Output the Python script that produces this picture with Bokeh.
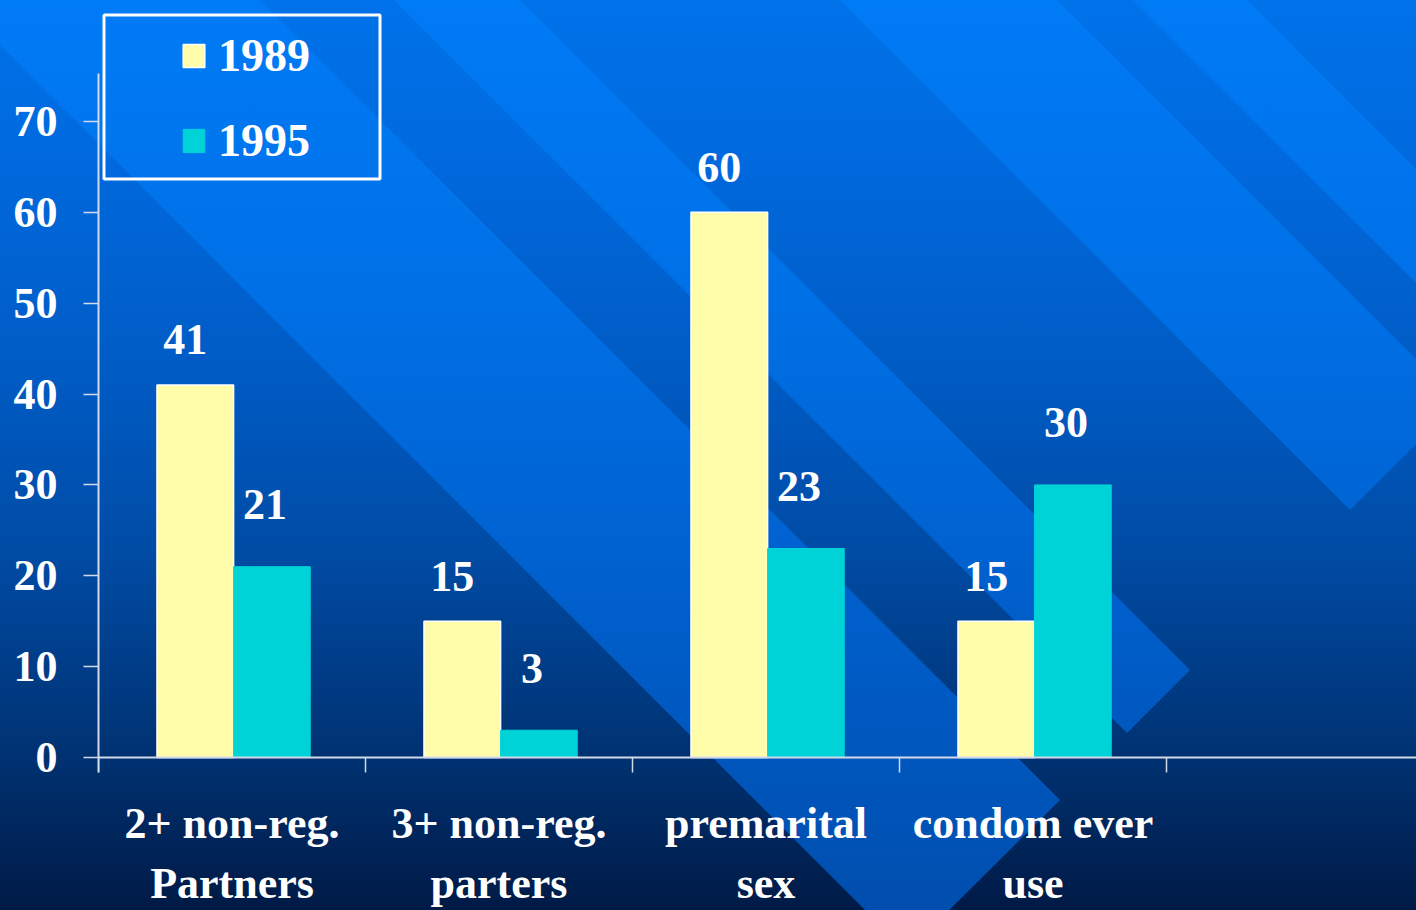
from urllib.parse import quote

from bokeh.core.properties import value
from bokeh.embed import file_html
from bokeh.models import (BoxAnnotation, ColumnDataSource, FixedTicker, GlobalInlineStyleSheet,
                          Legend, LegendItem, LinearAxis, Range1d)
from bokeh.plotting import figure
from bokeh.resources import INLINE

# ---------------- data ----------------
categories = ["2+ non-reg.\nPartners", "3+ non-reg.\nparters", "premarital\nsex", "condom ever\nuse"]
years = ["1989", "1995"]
values_1989 = [41, 15, 60, 15]
values_1995 = [21, 3, 23, 30]
y_ticks = [0, 10, 20, 30, 40, 50, 60, 70]

# ---------------- style ----------------
FONT = "Liberation Serif"
YELLOW = "#FFFDAA"
CYAN = "#00D3D7"
AXIS = "#D2DAEA"
W, H = 1416, 910
FRAME_L = 98
ZERO_Y = 757            # pixel row of the value 0
PX_PER_CAT = 267.0
PX_PER_UNIT = 9.086
x_end = (W - FRAME_L) / PX_PER_CAT
y_end = ZERO_Y / PX_PER_UNIT
y_start = -(H - ZERO_Y) / PX_PER_UNIT
BAR_W = 0.287
GROUP_SHIFT = 0.006

# ---------------- page background (decorative slide backdrop) ----------------
bg_svg = (
    '<svg xmlns="http://www.w3.org/2000/svg" width="1416" height="910" viewBox="0 0 1416 910">'
    '<defs>'
    '<linearGradient id="g" x1="0" y1="0" x2="0" y2="910" gradientUnits="userSpaceOnUse">'
    '<stop offset="0" stop-color="#0072EA"/><stop offset="0.165" stop-color="#006ADF"/>'
    '<stop offset="0.41" stop-color="#005BC4"/><stop offset="0.6" stop-color="#004CA6"/>'
    '<stop offset="0.83" stop-color="#003272"/><stop offset="1" stop-color="#001A46"/>'
    '</linearGradient>'
    '<linearGradient id="h" x1="0" y1="0" x2="0" y2="910" gradientUnits="userSpaceOnUse">'
    '<stop offset="0" stop-color="#007BF6"/><stop offset="0.33" stop-color="#0070E6"/>'
    '<stop offset="0.66" stop-color="#005FCC"/><stop offset="1" stop-color="#004EAE"/>'
    '</linearGradient>'
    '</defs>'
    '<rect width="1416" height="910" fill="url(#g)"/>'
    '<polygon fill="url(#h)" points="0,45 907,952 1060,800 260,0 0,0"/>'
    '<polygon fill="url(#h)" points="394,0 1127,733 1190,670 520,0"/>'
    '<polygon fill="url(#h)" points="840,0 1350,510 1416,444 1416,359 1057,0"/>'
    '<polygon fill="url(#h)" points="1133,0 1416,283 1416,169 1247,0"/>'
    '</svg>'
)
page_css = (
    'html,body{margin:0;padding:0;overflow:hidden;}'
    'html{background:#001A46 url("data:image/svg+xml,' + quote(bg_svg) + '") no-repeat 0 0;}'
    'body{background:transparent;}'
)

# ---------------- figure ----------------
p = figure(width=W, height=H, x_range=Range1d(0, x_end), y_range=Range1d(y_start, y_end),
           output_backend="svg", toolbar_location=None,
           x_axis_type=None, y_axis_type=None,
           min_border_left=FRAME_L, min_border_right=0, min_border_top=0, min_border_bottom=0)
p.background_fill_color = None
p.border_fill_color = None
p.outline_line_color = None
p.stylesheets = [GlobalInlineStyleSheet(css=page_css)]

n = len(categories)
centers = [i + 0.5 for i in range(n)]
x_1989 = [c + GROUP_SHIFT - BAR_W / 2 for c in centers]
x_1995 = [c + GROUP_SHIFT + BAR_W / 2 for c in centers]

src = ColumnDataSource(dict(x89=x_1989, x95=x_1995, v89=values_1989, v95=values_1995,
                            t89=[str(v) for v in values_1989], t95=[str(v) for v in values_1995]))

r89 = p.vbar(x="x89", top="v89", bottom=0, width=BAR_W, source=src,
             fill_color=YELLOW, line_color="white", line_width=1.5)
r95 = p.vbar(x="x95", top="v95", bottom=0, width=BAR_W, source=src,
             fill_color=CYAN, line_color=CYAN, line_width=1)

label_kw = dict(text_font=value(FONT), text_font_style="bold", text_font_size="44px",
                text_color="white", text_align="center", text_baseline="alphabetic")
p.text(x="x89", y="v89", text="t89", source=src, x_offset=-10, y_offset=-45, **label_kw)
p.text(x="x95", y="v95", text="t95", source=src, x_offset=-7, y_offset=-62, **label_kw)

# ---------------- axes ----------------
xaxis = LinearAxis(fixed_location=0,
                   ticker=FixedTicker(ticks=centers, minor_ticks=list(range(n + 1))),
                   major_label_overrides={c: lab for c, lab in zip(centers, categories)},
                   major_label_standoff=26, major_label_text_font=FONT,
                   major_label_text_font_style="bold", major_label_text_font_size="44px",
                   major_label_text_color="white", major_label_text_line_height=1.24,
                   axis_line_color=AXIS, axis_line_width=2,
                   major_tick_out=0, major_tick_in=0,
                   minor_tick_line_color=AXIS, minor_tick_line_width=1.5,
                   minor_tick_out=15, minor_tick_in=0)
p.add_layout(xaxis, "below")

yaxis = LinearAxis(ticker=FixedTicker(ticks=y_ticks, minor_ticks=[]), bounds=(-1.65, 75.3),
                   axis_line_color=AXIS, axis_line_width=2,
                   major_tick_line_color=AXIS, major_tick_line_width=1.5,
                   major_tick_out=15, major_tick_in=0, minor_tick_out=0, minor_tick_in=0,
                   major_label_standoff=26, major_label_text_font=FONT,
                   major_label_text_font_style="bold", major_label_text_font_size="44px",
                   major_label_text_color="white")
p.add_layout(yaxis, "left")

# ---------------- legend ----------------
legend = Legend(items=[LegendItem(label=years[0], renderers=[r89]),
                       LegendItem(label=years[1], renderers=[r95])],
                location=(82, 743), orientation="vertical",
                glyph_width=27, glyph_height=29, label_height=29, label_standoff=11,
                spacing=32, padding=0, margin=0,
                label_text_font=FONT, label_text_font_style="bold",
                label_text_font_size="46px", label_text_color="white",
                border_line_color=None, background_fill_alpha=0)
p.add_layout(legend)

p.add_layout(BoxAnnotation(left=103.5, right=379.5, top=14.5, bottom=178.5,
                           left_units="canvas", right_units="canvas",
                           top_units="canvas", bottom_units="canvas",
                           fill_alpha=0, line_color="white", line_alpha=1.0, line_width=3))

open("out.html", "w").write(file_html(p, INLINE))
